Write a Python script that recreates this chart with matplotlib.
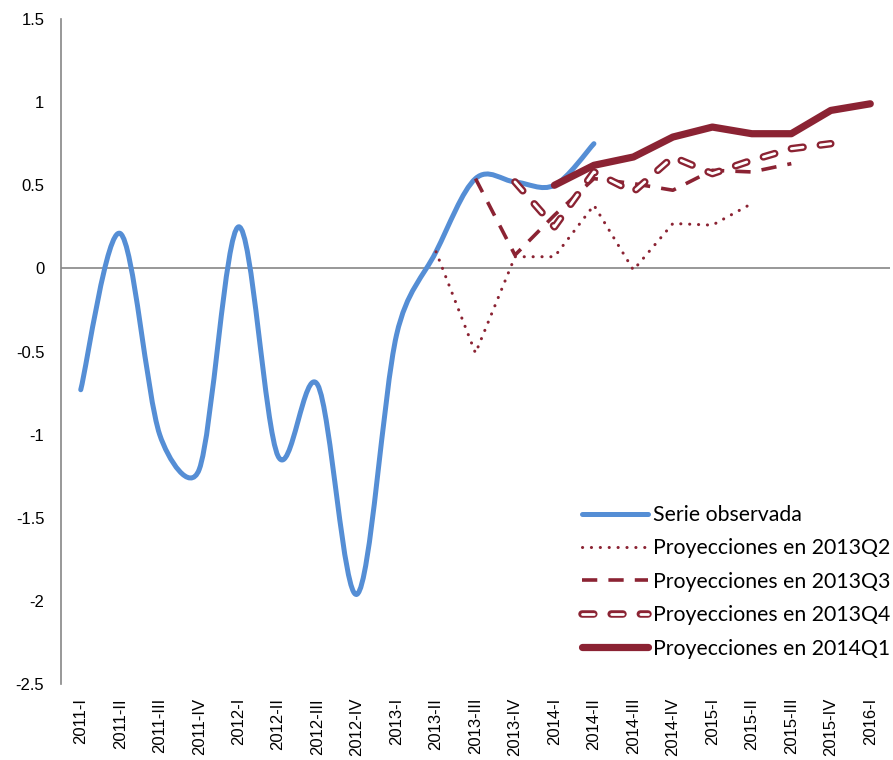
import numpy as np
import matplotlib
matplotlib.use("Agg")
import matplotlib.pyplot as plt
from matplotlib.path import Path
from matplotlib.patches import PathPatch
from matplotlib.lines import Line2D

nan = np.nan

# trimestres
categories = ['2011-I', '2011-II', '2011-III', '2011-IV',
              '2012-I', '2012-II', '2012-III', '2012-IV',
              '2013-I', '2013-II', '2013-III', '2013-IV',
              '2014-I', '2014-II', '2014-III', '2014-IV',
              '2015-I', '2015-II', '2015-III', '2015-IV', '2016-I']

serie_observada = [-0.73, 0.21, -1.0, -1.21, 0.25, -1.13, -0.70, -1.96,
                   -0.40, 0.10, 0.54, 0.52, 0.50, 0.75]

proy_2013q2 = [nan] * 9 + [0.10, -0.51, 0.07, 0.07, 0.38, -0.01, 0.27, 0.26, 0.39,
                           nan, nan, nan]
proy_2013q3 = [nan] * 10 + [0.54, 0.08, 0.32, 0.54, 0.51, 0.47, 0.59, 0.58, 0.63,
                            nan, nan]
proy_2013q4 = [nan] * 11 + [0.52, 0.25, 0.58, 0.46, 0.67, 0.57, 0.65, 0.72, 0.75,
                            nan]
proy_2014q1 = [nan] * 12 + [0.50, 0.62, 0.67, 0.79, 0.85, 0.81, 0.81, 0.95, 0.99]

azul = '#558ED5'
rojo = '#8B2333'
gris = '#868686'

plt.rcParams['lines.scale_dashes'] = False

fig = plt.figure(figsize=(8.93, 7.60), dpi=100)
ax = fig.add_axes([61 / 893, 1 - 684 / 760, (890 - 61) / 893, (684 - 19) / 760])
ax.set_xlim(-0.5, len(categories) - 0.5)
ax.set_ylim(-2.5, 1.5)

# escala en pixeles, para suavizar la curva como en Excel
sx = (890 - 61) / len(categories)
sy = (684 - 19) / 4.0


def smooth_path(xs, ys, kmax=0.5):
    # Bezier tipo Catmull-Rom, con tangentes limitadas por el largo del tramo
    pts = np.column_stack([np.asarray(xs) * sx, np.asarray(ys) * sy])
    n = len(pts)
    verts = [pts[0]]
    codes = [Path.MOVETO]

    def clamp(v, d):
        L = np.hypot(*v)
        if L > kmax * d:
            v = v * (kmax * d / L)
        return v

    for i in range(n - 1):
        p0 = pts[max(i - 1, 0)]
        p1 = pts[i]
        p2 = pts[i + 1]
        p3 = pts[min(i + 2, n - 1)]
        d = np.hypot(*(p2 - p1))
        c1 = p1 + clamp((p2 - p0) / 6.0, d)
        c2 = p2 - clamp((p3 - p1) / 6.0, d)
        verts += [c1, c2, p2]
        codes += [Path.CURVE4] * 3
    verts = np.array(verts) / [sx, sy]
    return Path(verts, codes)


x = np.arange(len(categories))

# serie observada (suavizada)
obs_path = smooth_path(x[:len(serie_observada)], serie_observada)
ax.add_patch(PathPatch(obs_path, facecolor='none', edgecolor=azul, lw=3.6,
                       capstyle='round', joinstyle='round', zorder=3))

# proyecciones
q2_style = dict(color=rojo, lw=2.2, linestyle=(0, (0.1, 6.3)), dash_capstyle='round')
q3_style = dict(color=rojo, lw=2.6, linestyle=(0, (11, 8)), dash_capstyle='butt')
q4a_style = dict(color=rojo, lw=5.4, linestyle=(0, (8.5, 12.5)), dash_capstyle='round')
q4b_style = dict(color='white', lw=2.0, linestyle=(0, (8.5, 12.5)), dash_capstyle='round')
q1_style = dict(color=rojo, lw=5.2, solid_capstyle='round', solid_joinstyle='round')

ax.plot(x, proy_2013q2, zorder=4, **q2_style)
ax.plot(x, proy_2013q3, zorder=4, **q3_style)
ax.plot(x, proy_2013q4, zorder=5, **q4a_style)
ax.plot(x, proy_2013q4, zorder=5, **q4b_style)
ax.plot(x, proy_2014q1, zorder=6, **q1_style)

ax.axhline(0, color=gris, lw=1.2, zorder=1)

ax.set_yticks(np.arange(-2.5, 1.51, 0.5))
ax.set_yticklabels(['-2.5', '-2', '-1.5', '-1', '-0.5', '0', '0.5', '1', '1.5'])
ax.set_xticks(x)
ax.set_xticklabels(categories, rotation=90)

for s in ['top', 'right', 'bottom']:
    ax.spines[s].set_visible(False)
ax.spines['left'].set_color(gris)
ax.spines['left'].set_linewidth(1.2)

ax.tick_params(axis='y', length=0, pad=12, labelsize=12, labelcolor='black')
ax.tick_params(axis='x', length=0, pad=10, labelsize=12, labelcolor='black')
for lab in ax.get_xticklabels() + ax.get_yticklabels():
    lab.set_fontfamily('Liberation Sans')

# leyenda
h_obs = Line2D([], [], color=azul, lw=3.6, solid_capstyle='round')
h_q2 = Line2D([], [], **q2_style)
h_q3 = Line2D([], [], **q3_style)
h_q4a = Line2D([], [], **q4a_style)
h_q4b = Line2D([], [], **q4b_style)
h_q1 = Line2D([], [], **q1_style)

leg = ax.legend([h_obs, h_q2, h_q3, (h_q4a, h_q4b), h_q1],
                ['Serie observada', 'Proyecciones en 2013Q2', 'Proyecciones en 2013Q3',
                 'Proyecciones en 2013Q4', 'Proyecciones en 2014Q1'],
                loc='upper left', bbox_to_anchor=(582 / 893, 1 - 505 / 760),
                bbox_transform=fig.transFigure, frameon=False,
                prop={'family': 'Lato', 'size': 15.3}, handlelength=3.1,
                handletextpad=0.25, labelspacing=0.63, borderaxespad=0, borderpad=0)

fig.savefig('out.png', dpi=100)
